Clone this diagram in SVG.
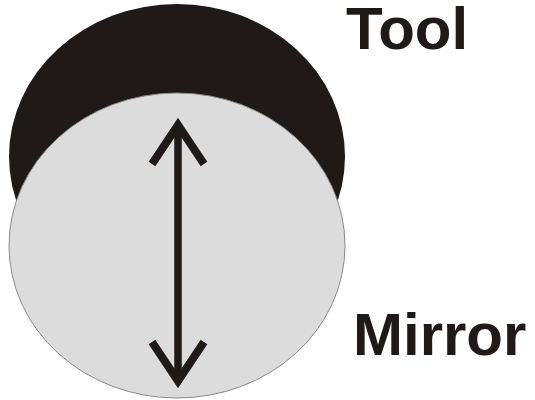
<svg xmlns="http://www.w3.org/2000/svg" width="535" height="400" viewBox="0 0 535 400">
<style>
.lbl{font-family:"Liberation Sans",Arial,sans-serif;font-weight:bold;font-size:60px;fill:#1f1a17}
.arr{fill:none;stroke:#1f1a17;stroke-width:8;stroke-linejoin:miter;stroke-miterlimit:10;stroke-linecap:butt}
</style>
<rect width="535" height="400" fill="#ffffff"/>
<g id="tool">
<ellipse cx="177" cy="156.5" rx="168" ry="152.5" fill="#1f1a17"/>
<text class="lbl" x="346" y="49">Tool</text>
</g>
<g id="mirror">
<ellipse cx="177" cy="245.5" rx="168" ry="152.5" fill="#dcdcdc" stroke="#8a8a8a" stroke-width="1"/>
<text class="lbl" x="353" y="355">Mirror</text>
</g>
<g id="connectors">
<line class="arr" x1="178" y1="126" x2="178" y2="380" style="stroke-width:7.5"/>
<polyline class="arr" points="152,164 178,125 204,164"/>
<polyline class="arr" points="152,342 178,381 204,342"/>
</g>
</svg>
